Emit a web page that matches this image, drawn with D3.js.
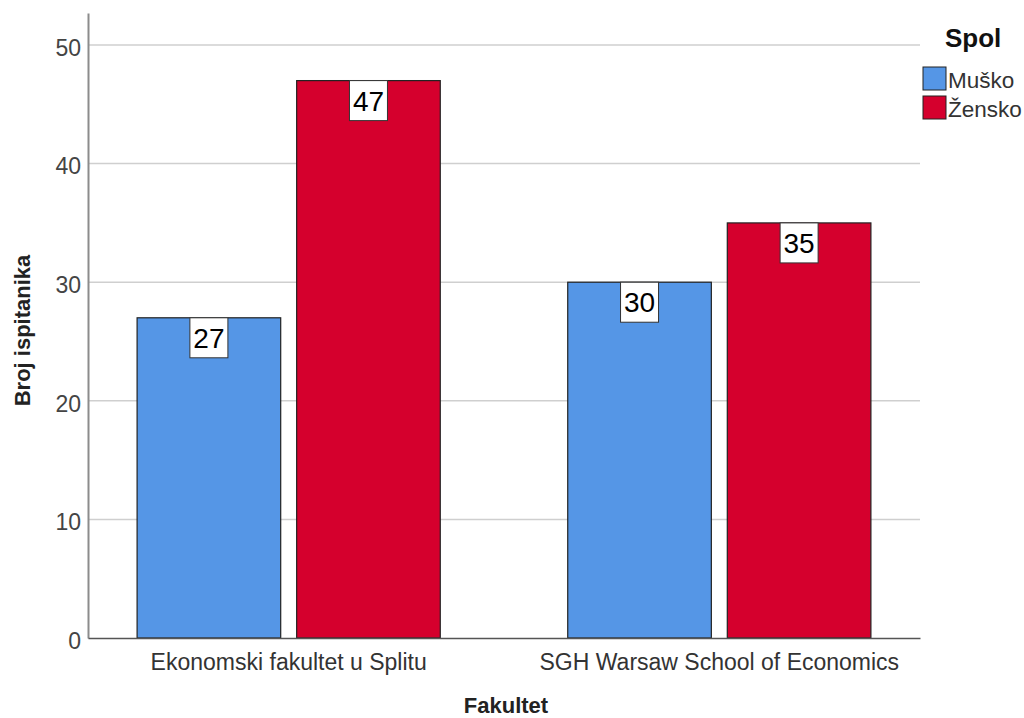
<!DOCTYPE html>
<html>
<head>
<meta charset="utf-8">
<script src="https://cdn.jsdelivr.net/npm/d3@7"></script>
<style>
	body { margin: 0; background: #fff; }
	text { font-family: Arial, "Liberation Sans", sans-serif; }
</style>
</head>
<body>
<svg id="chart" width="1024" height="718"></svg>
<script>
"use strict";

var faculties = ['Ekonomski fakultet u Splitu', 'SGH Warsaw School of Economics'];
var genders = ['Muško', 'Žensko'];
var musko = [27, 30];
var zensko = [47, 35];
var yTicks = [0, 10, 20, 30, 40, 50];
var colors = ['#5596e6', '#d5002d'];

var svg = d3.select('#chart');
var plotLeft = 88, plotRight = 920, plotTop = 13, plotBottom = 638;

var x0 = d3.scaleBand().domain(faculties).range([plotLeft, plotRight])
	.paddingInner(0.296).paddingOuter(0.114);
var x1 = d3.scaleBand().domain(genders).range([0, x0.bandwidth()])
	.paddingInner(0.1).paddingOuter(0);
var y = d3.scaleLinear().domain([0, 52.7]).range([plotBottom, plotTop]);
var color = d3.scaleOrdinal().domain(genders).range(colors);

// Grid lines
svg.append('g').selectAll('line').data(yTicks.filter(function(d) { return d > 0; }))
	.enter().append('line')
	.attr('x1', plotLeft).attr('x2', plotRight)
	.attr('y1', function(d) { return y(d); }).attr('y2', function(d) { return y(d); })
	.attr('stroke', '#cfcfcf').attr('stroke-width', 1.5);

// Y axis
var yAxis = svg.append('g').attr('transform', 'translate(' + plotLeft + ',0)')
	.call(d3.axisLeft(y).tickValues(yTicks).tickSize(0).tickPadding(7));
yAxis.select('.domain').attr('stroke', '#8c8c8c').attr('stroke-width', 2);
yAxis.selectAll('text').attr('font-size', 23).attr('fill', '#444').attr('dy', '0.45em')
	.style('font-family', 'Arial, "Liberation Sans", sans-serif');

// Bars
var rows = faculties.map(function(f, i) {
	return { faculty: f, values: [
		{ gender: genders[0], value: musko[i] },
		{ gender: genders[1], value: zensko[i] }
	] };
});

var groups = svg.append('g').selectAll('g').data(rows).enter().append('g')
	.attr('transform', function(d) { return 'translate(' + x0(d.faculty) + ',0)'; });

groups.selectAll('rect').data(function(d) { return d.values; }).enter().append('rect')
	.attr('x', function(d) { return x1(d.gender); })
	.attr('y', function(d) { return y(d.value); })
	.attr('width', x1.bandwidth())
	.attr('height', function(d) { return y(0) - y(d.value); })
	.attr('fill', function(d) { return color(d.gender); })
	.attr('stroke', '#222').attr('stroke-width', 1.2);

// Value labels
var lab = groups.selectAll('g.lab').data(function(d) { return d.values; }).enter().append('g')
	.attr('class', 'lab')
	.attr('transform', function(d) {
		return 'translate(' + (x1(d.gender) + x1.bandwidth() / 2) + ',' + y(d.value) + ')';
	});
lab.append('rect').attr('x', -19).attr('y', 0).attr('width', 38).attr('height', 40)
	.attr('fill', '#fff').attr('stroke', '#333').attr('stroke-width', 1);
lab.append('text').attr('x', 0).attr('y', 30).attr('text-anchor', 'middle')
	.attr('font-size', 28).attr('fill', '#000')
	.text(function(d) { return d.value; });

// X axis
var xAxis = svg.append('g').attr('transform', 'translate(0,' + plotBottom + ')')
	.call(d3.axisBottom(x0).tickSize(0).tickPadding(16).tickSizeOuter(0));
xAxis.select('.domain').attr('stroke', '#555').attr('stroke-width', 1.5);
xAxis.selectAll('text').attr('font-size', 23).attr('fill', '#333')
	.style('font-family', 'Arial, "Liberation Sans", sans-serif');

// Axis titles
svg.append('text').attr('transform', 'translate(30,' + ((plotTop + plotBottom) / 2 + 5) + ') rotate(-90)')
	.attr('text-anchor', 'middle').attr('font-size', 22).attr('font-weight', 'bold')
	.attr('fill', '#222').text('Broj ispitanika');
svg.append('text').attr('x', 506).attr('y', 713)
	.attr('text-anchor', 'middle').attr('font-size', 22).attr('font-weight', 'bold')
	.attr('fill', '#222').text('Fakultet');

// Legend
var legend = svg.append('g').attr('transform', 'translate(923,0)');
legend.append('text').attr('x', 22).attr('y', 47).attr('font-size', 26)
	.attr('font-weight', 'bold').attr('fill', '#111').text('Spol');
var items = legend.selectAll('g.item').data(genders).enter().append('g')
	.attr('class', 'item')
	.attr('transform', function(d, i) { return 'translate(0,' + (67 + i * 29) + ')'; });
items.append('rect').attr('width', 23).attr('height', 23)
	.attr('fill', function(d) { return color(d); })
	.attr('stroke', '#222').attr('stroke-width', 1);
items.append('text').attr('x', 25).attr('y', 21).attr('font-size', 22.5)
	.attr('fill', '#333').text(function(d) { return d; });
</script>
</body>
</html>
